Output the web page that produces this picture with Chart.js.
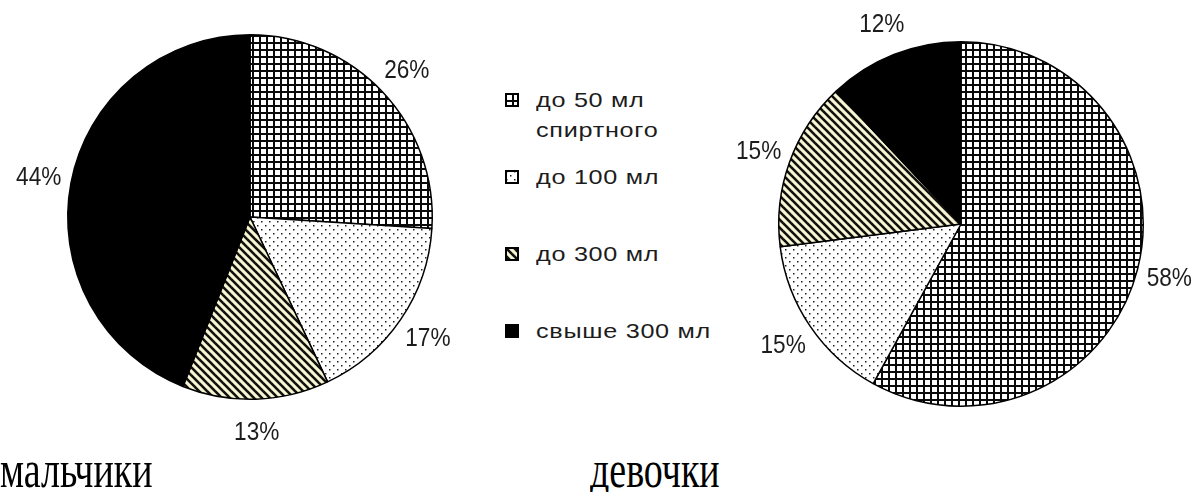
<!DOCTYPE html>
<html>
<head>
<meta charset="utf-8">
<script src="https://cdn.jsdelivr.net/npm/chart.js@4.4.1/dist/chart.umd.min.js"></script>
<style>
  html, body { margin: 0; padding: 0; background: #fff; }
  #stage { position: relative; width: 1199px; height: 492px; overflow: hidden; background: #fff; }
  canvas.pie { position: absolute; }
  #legend { position: absolute; left: 505px; top: 85px; width: 215px; }
  .item { position: absolute; left: 0; display: flex; align-items: flex-start; }
  .item canvas { margin-top: 8px; margin-right: 17px; }
  .item .txt { font-family: "Liberation Sans", Arial, sans-serif; font-size: 21px; letter-spacing: 0.6px; line-height: 30px; color: #1c1c1c; white-space: nowrap; transform: scaleX(1.2); transform-origin: left top; }
  .group { position: absolute; font-family: "Liberation Serif", "DejaVu Serif", serif; font-size: 52px; line-height: 52px; color: #000; transform: scaleX(0.73); transform-origin: left top; white-space: nowrap; }
</style>
</head>
<body>
<div id="stage">
  <canvas id="boys" class="pie" width="500" height="448" style="left:0;top:0;width:500px;height:448px"></canvas>
  <canvas id="girls" class="pie" width="479" height="448" style="left:720px;top:0;width:479px;height:448px"></canvas>
  <div id="legend"></div>
  <div id="g0" class="group" style="left:0;top:444px"></div>
  <div id="g1" class="group" style="left:590px;top:444px"></div>
</div>
<script>
// ---- data ----
const categories = ['до 50 мл спиртного', 'до 100 мл', 'до 300 мл', 'свыше 300 мл'];
const legendLines = [['до 50 мл', 'спиртного'], ['до 100 мл'], ['до 300 мл'], ['свыше 300 мл']];
const boysValues = [26, 17, 13, 44];
const girlsValues = [58, 15, 15, 12];
const groupLabels = ['мальчики', 'девочки'];

// ---- patterns ----
function makeTile(kind) {
  const c = document.createElement('canvas');
  const ctx = c.getContext('2d');
  if (kind === 'grid') {
    c.width = 7; c.height = 7;
    ctx.fillStyle = '#ffffff'; ctx.fillRect(0, 0, 7, 7);
    ctx.fillStyle = '#0a0a0a';
    ctx.fillRect(0, 0, 7, 2);
    ctx.fillRect(0, 0, 2, 7);
  } else if (kind === 'dots') {
    c.width = 8; c.height = 8;
    ctx.fillStyle = '#ffffff'; ctx.fillRect(0, 0, 8, 8);
    ctx.fillStyle = '#222222';
    ctx.fillRect(1, 1, 1.5, 1.5);
    ctx.fillRect(5, 5, 1.5, 1.5);
  } else if (kind === 'hatch') {
    c.width = 8; c.height = 8;
    ctx.fillStyle = '#f8f6d2'; ctx.fillRect(0, 0, 8, 8);
    ctx.strokeStyle = '#111111'; ctx.lineWidth = 2.6;
    for (const k of [-8, 0, 8]) {
      ctx.beginPath(); ctx.moveTo(k - 2, -2); ctx.lineTo(k + 10, 10); ctx.stroke();
    }
  } else {
    c.width = 4; c.height = 4;
    ctx.fillStyle = '#000000'; ctx.fillRect(0, 0, 4, 4);
  }
  return c;
}
const tileKinds = ['grid', 'dots', 'hatch', 'solid'];
const mainCtx = document.getElementById('boys').getContext('2d');
const patterns = tileKinds.map(k => k === 'solid' ? '#000000' : mainCtx.createPattern(makeTile(k), 'repeat'));

// ---- percentage labels plugin ----
const pctLabels = {
  id: 'pctLabels',
  afterDatasetsDraw(chart) {
    const ctx = chart.ctx;
    const meta = chart.getDatasetMeta(0);
    const data = chart.data.datasets[0].data;
    ctx.save();
    ctx.font = '26px "Liberation Sans", Arial, sans-serif';
    ctx.fillStyle = '#1c1c1c';
    ctx.textAlign = 'center';
    ctx.textBaseline = 'middle';
    meta.data.forEach((arc, i) => {
      const p = arc.getProps(['x', 'y', 'startAngle', 'endAngle', 'outerRadius'], true);
      const mid = (p.startAngle + p.endAngle) / 2;
      const d = p.outerRadius * 1.18;
      const lx = p.x + Math.cos(mid) * d;
      const ly = p.y + Math.sin(mid) * d;
      ctx.save();
      ctx.translate(lx, ly);
      ctx.scale(0.87, 1);
      ctx.fillText(data[i] + '%', 0, 1);
      ctx.restore();
    });
    ctx.restore();
  }
};

function makePie(id, values, padding) {
  return new Chart(document.getElementById(id), {
    type: 'pie',
    data: {
      labels: categories,
      datasets: [{
        data: values,
        backgroundColor: patterns,
        borderColor: '#000000',
        borderWidth: 1.5
      }]
    },
    options: {
      responsive: false,
      animation: false,
      devicePixelRatio: 1,
      layout: { padding: padding },
      plugins: { legend: { display: false }, tooltip: { enabled: false } }
    },
    plugins: [pctLabels]
  });
}

makePie('boys', boysValues, { top: 34, bottom: 48, left: 67, right: 67 });
makePie('girls', girlsValues, { top: 41, bottom: 41, left: 58, right: 55 });

// ---- legend ----
const legend = document.getElementById('legend');
legendLines.forEach((lines, i) => {
  const item = document.createElement('div');
  item.className = 'item';
  item.style.top = (i * 77) + 'px';
  const ic = document.createElement('canvas');
  ic.width = 14; ic.height = 14;
  const ictx = ic.getContext('2d');
  ictx.fillStyle = i === 3 ? '#000' : ictx.createPattern(makeTile(tileKinds[i]), 'repeat');
  ictx.fillRect(0, 0, 14, 14);
  ictx.strokeStyle = '#000'; ictx.lineWidth = 2;
  ictx.strokeRect(1, 1, 12, 12);
  item.appendChild(ic);
  const t = document.createElement('div');
  t.className = 'txt';
  t.innerHTML = lines.join('<br>');
  item.appendChild(t);
  legend.appendChild(item);
});

document.getElementById('g0').textContent = groupLabels[0];
document.getElementById('g1').textContent = groupLabels[1];
</script>
</body>
</html>
